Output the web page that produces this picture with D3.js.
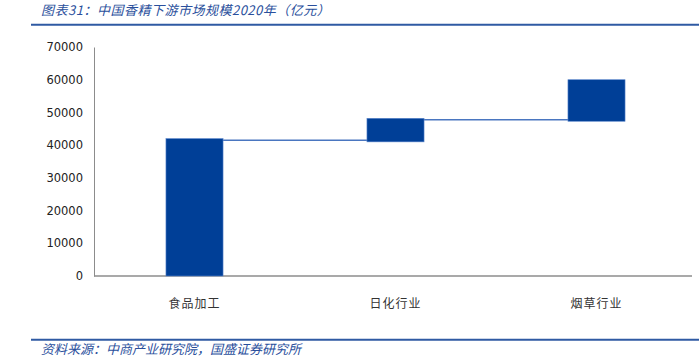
<!DOCTYPE html>
<html>
<head>
<meta charset="utf-8">
<script src="https://cdn.jsdelivr.net/npm/d3@7"></script>
<style>
body { margin: 0; background: #fff; }
svg { display: block; }
</style>
</head>
<body>
<script>
var width = 699
var height = 358

// waterfall data (亿元)
var categories = ["食品加工", "日化行业", "烟草行业"]
var lows = [0, 41000, 47300]
var highs = [42000, 48200, 60000]
var connectors = [41500, 47800]
var yTicks = [0, 10000, 20000, 30000, 40000, 50000, 60000, 70000]

var title = "图表31：中国香精下游市场规模2020年（亿元）"
var source = "资料来源：中商产业研究院，国盛证券研究所"

var x = d3.scaleBand()
.domain(categories)
.range([94, 697])
.paddingInner(0.716)
.paddingOuter(0.358)

var y = d3.scaleLinear()
.domain([0, 70000])
.range([276, 47])

var svg = d3.select("body").append("svg")
.attr("width", width)
.attr("height", height)

// title + rules
svg.append("text")
.attr("x", 41).attr("y", 15)
.style("font-family", "'Noto Sans CJK SC'")
.style("font-style", "italic")
.style("font-size", "13px")
.style("letter-spacing", "0.5px")
.attr("fill", "#2a4f9c")
.text(title)

svg.append("line")
.attr("x1", 31).attr("x2", 699).attr("y1", 24.7).attr("y2", 24.7)
.attr("stroke", "#2f5aa3").attr("stroke-width", 2)

svg.append("line")
.attr("x1", 31).attr("x2", 699).attr("y1", 339.7).attr("y2", 339.7)
.attr("stroke", "#2f5aa3").attr("stroke-width", 2)

svg.append("text")
.attr("x", 41).attr("y", 354)
.style("font-family", "'Noto Sans CJK SC'")
.style("font-style", "italic")
.style("font-size", "13px")
.attr("fill", "#2a4f9c")
.text(source)

// y axis
var yAxis = svg.append("g")
.attr("transform", "translate(94,0)")
.call(d3.axisLeft(y).tickValues(yTicks).tickSize(0).tickPadding(11).tickFormat(d3.format("d")))
yAxis.select(".domain").attr("stroke", "#8c8c8c")
yAxis.selectAll("text")
.style("font-family", "'DejaVu Sans'")
.style("font-size", "11.5px")
.attr("fill", "#222")

// x axis
var xAxis = svg.append("g")
.attr("transform", "translate(0,276)")
.call(d3.axisBottom(x).tickSize(0).tickPadding(23))
xAxis.select(".domain").remove()
xAxis.selectAll("text")
.style("font-family", "'Noto Sans CJK SC'")
.style("font-size", "12px")
.style("letter-spacing", "1px")
.attr("fill", "#333")

svg.append("line")
.attr("x1", 94).attr("x2", 692).attr("y1", 276).attr("y2", 276)
.attr("stroke", "#8c8c8c").attr("stroke-width", 1.5)

// connector lines
svg.append("g").selectAll("line")
.data(connectors)
.enter().append("line")
.attr("x1", function(d, i) { return x(categories[i]) + x.bandwidth() })
.attr("x2", function(d, i) { return x(categories[i + 1]) })
.attr("y1", function(d) { return y(d) })
.attr("y2", function(d) { return y(d) })
.attr("stroke", "#4a76c0")
.attr("stroke-width", 1.5)

// bars
svg.append("g").selectAll("rect")
.data(categories)
.enter().append("rect")
.attr("x", function(d) { return x(d) })
.attr("width", x.bandwidth())
.attr("y", function(d, i) { return y(highs[i]) })
.attr("height", function(d, i) { return y(lows[i]) - y(highs[i]) })
.attr("fill", "#003f97")
.attr("stroke", "#5b86cc")
.attr("stroke-width", 0.6)
</script>
</body>
</html>
